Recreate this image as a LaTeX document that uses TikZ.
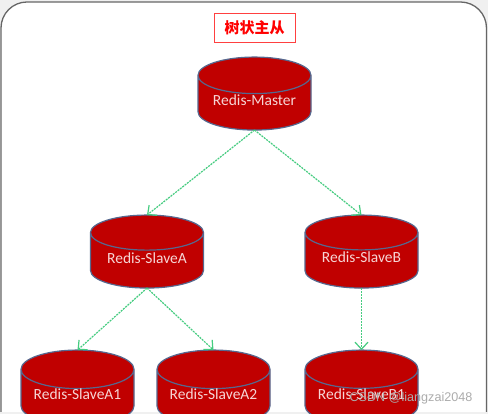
\documentclass[tikz,border=0pt]{standalone}
\usepackage{fontspec}
\setmainfont{Carlito}
\newfontfamily\cjkfont{Noto Sans CJK SC}
\newfontfamily\markfont{Liberation Sans}
\usetikzlibrary{arrows.meta, positioning, shapes.geometric}
\definecolor{redisRed}{HTML}{C00000}
\definecolor{redisEdge}{HTML}{56688F}
\definecolor{labelPink}{HTML}{F6D5D5}
\definecolor{linkGreen}{HTML}{45CC80}
\definecolor{frameGray}{HTML}{666666}
\definecolor{stripGray}{HTML}{F0F0F0}
\tikzset{
  arrowL/.style={-{Straight Barb[length=7pt, width=13pt]}, linkGreen, line width=1.2pt, dash pattern=on 2pt off 1pt},
  dbBox/.style={cylinder, shape border rotate=90, aspect=0.44, draw=redisEdge, fill=redisRed,
                line width=1.2pt, text=labelPink, align=center, font=\fontsize{15.5}{17}\selectfont,
                text depth=6pt, minimum width=113pt, minimum height=73pt, inner sep=0pt, outer sep=0pt},
  titleBox/.style={rectangle, draw=red!75!white, fill=white, text=red, line width=0.9pt,
                   font=\cjkfont\bfseries\fontsize{15}{18}\selectfont,
                   minimum width=81pt, minimum height=29pt, inner sep=0pt},
}
\begin{document}
\begin{tikzpicture}[x=1pt, y=1pt]
    \useasboundingbox (0,0) rectangle (488,414);
    \clip (0,0) rectangle (488,414);
    % frame
    \fill[stripGray] (0,0) rectangle (488,414);
    \draw[frameGray, line width=1.3pt, fill=white, rounded corners=26pt] (1,-30) rectangle (486.5,412);
    \fill[stripGray] (0,0) rectangle (488,2);
    \node[titleBox] (title) at (254.5,386.5) {树状主从};
    % databases
    \node[dbBox] (master) at (254.5,311) {Redis-Master};
    \node[dbBox, below=85pt of master, xshift=-107.5pt] (slaveA) {Redis-SlaveA};
    \node[dbBox, below=85pt of master, xshift=107pt] (slaveB) {Redis-SlaveB};
    \node[dbBox, below=62pt of slaveA, xshift=-69.5pt] (slaveA1) {Redis-SlaveA1};
    \node[dbBox, below=62pt of slaveA, xshift=66.5pt] (slaveA2) {Redis-SlaveA2};
    \node[dbBox, below=62pt of slaveB] (slaveB1) {Redis-SlaveB1};
    % links
    \draw[arrowL] (master.south) -- (slaveA.north);
    \draw[arrowL] (master.south) -- (slaveB.north);
    \draw[arrowL] (slaveA.south) -- (slaveA1.north);
    \draw[arrowL] (slaveA.south) -- (slaveA2.north);
    \draw[arrowL] (slaveB.south) -- (slaveB1.north);
    \node[text=gray!65!white, font=\markfont\fontsize{12.6}{14}\selectfont] (mark) at (411,16) {CSDN @liangzai2048};
  \end{tikzpicture}
\end{document}
